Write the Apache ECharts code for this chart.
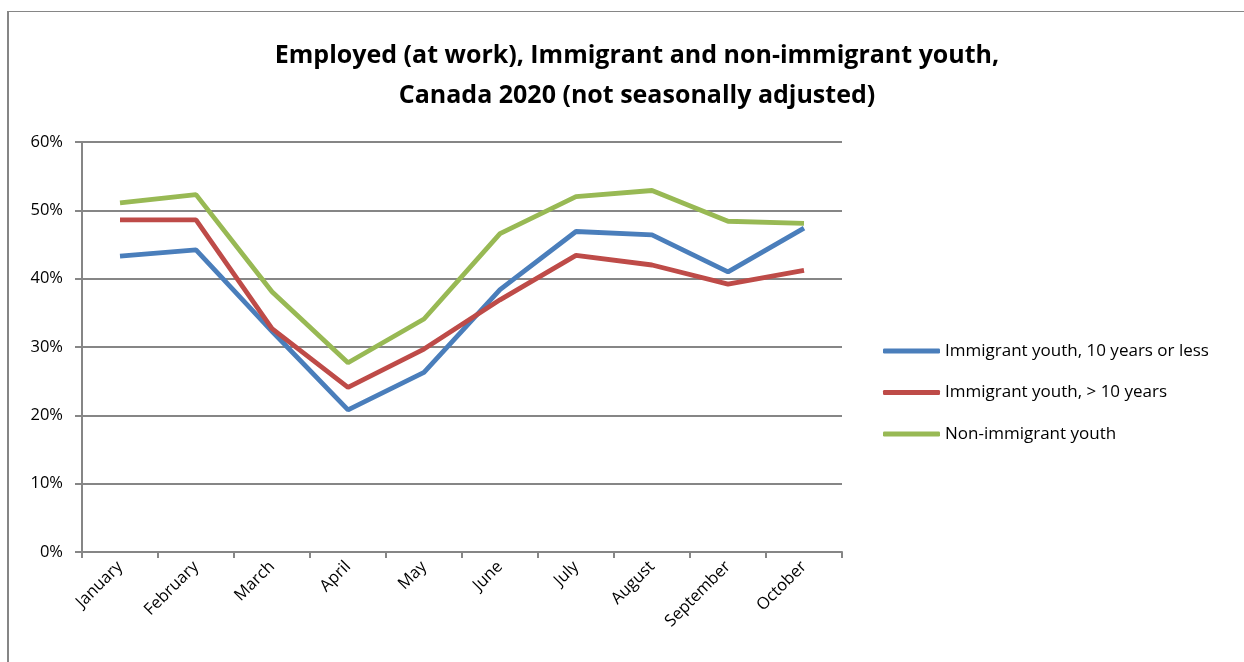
<!DOCTYPE html>
<html>
<head>
<meta charset="utf-8">
<title>Employed (at work), Immigrant and non-immigrant youth</title>
<script src="https://cdn.jsdelivr.net/npm/echarts@6/dist/echarts.min.js"></script>
<style>
  html, body { margin: 0; padding: 0; background: #fff; }
  #wrap { position: relative; width: 1244px; height: 662px; overflow: hidden; }
  #frame { position: absolute; left: 7px; top: 11px; width: 2000px; height: 2000px;
           border-left: 2px solid #868686; border-top: 1px solid #868686; }
  #chart { position: absolute; left: 0; top: 0; width: 1244px; height: 662px; }
</style>
</head>
<body>
<div id="wrap">
  <div id="frame"></div>
  <div id="chart"></div>
</div>
<script>
// months on the x axis
const months = ['January', 'February', 'March', 'April', 'May', 'June', 'July', 'August', 'September', 'October'];
// employment rate, %
const recentImmigrant = [43.3, 44.2, 32.3, 20.8, 26.3, 38.4, 46.9, 46.4, 41.0, 47.4];
const earlierImmigrant = [48.6, 48.6, 32.7, 24.1, 29.7, 36.9, 43.4, 42.0, 39.2, 41.2];
const nonImmigrant = [51.1, 52.3, 38.1, 27.7, 34.1, 46.6, 52.0, 52.9, 48.4, 48.1];
const seriesNames = ['Immigrant youth, 10 years or less', 'Immigrant youth, > 10 years', 'Non-immigrant youth'];

const font = '"Open Sans", "Noto Sans", sans-serif';

const chart = echarts.init(document.getElementById('chart'));
const line = (name, data, color) => ({
  name: name,
  type: 'line',
  data: data,
  symbol: 'none',
  smooth: false,
  lineStyle: { color: color, width: 4.8 },
  itemStyle: { color: color },
});

chart.setOption({
  animation: false,
  title: {
    text: 'Employed (at work), Immigrant and non-immigrant youth,\nCanada 2020 (not seasonally adjusted)',
    left: 632,
    textAlign: 'center',
    top: 31,
    textStyle: { fontFamily: font, fontSize: 25, fontWeight: 'bold', color: '#000', lineHeight: 40 },
  },
  legend: {
    orient: 'vertical',
    left: 878,
    top: 334,
    itemGap: 17.5,
    itemWidth: 57,
    itemHeight: 5,
    icon: 'roundRect',
    data: seriesNames,
    textStyle: { fontFamily: font, fontSize: 17, color: '#000', lineHeight: 24 },
  },
  grid: { left: 82, right: 402, top: 142, bottom: 110, containLabel: false },
  xAxis: {
    type: 'category',
    data: months,
    boundaryGap: true,
    axisLine: { lineStyle: { color: '#868686', width: 2 } },
    axisTick: { show: true, length: 6, lineStyle: { color: '#868686', width: 2 } },
    axisLabel: { rotate: 45, color: '#000', fontFamily: font, fontSize: 16.5, margin: 12, interval: 0 },
  },
  yAxis: {
    type: 'value',
    min: 0,
    max: 60,
    interval: 10,
    axisLine: { show: true, lineStyle: { color: '#868686', width: 2 } },
    axisTick: { show: true, length: 7, lineStyle: { color: '#868686', width: 2 } },
    splitLine: { lineStyle: { color: '#868686', width: 2 } },
    axisLabel: { formatter: '{value}%', color: '#000', fontFamily: font, fontSize: 16.5, margin: 19 },
  },
  series: [
    line(seriesNames[0], recentImmigrant, '#4A7EBB'),
    line(seriesNames[1], earlierImmigrant, '#BE4B48'),
    line(seriesNames[2], nonImmigrant, '#98B954'),
  ],
});
window.addEventListener('resize', () => { chart.resize(); });
</script>
</body>
</html>
